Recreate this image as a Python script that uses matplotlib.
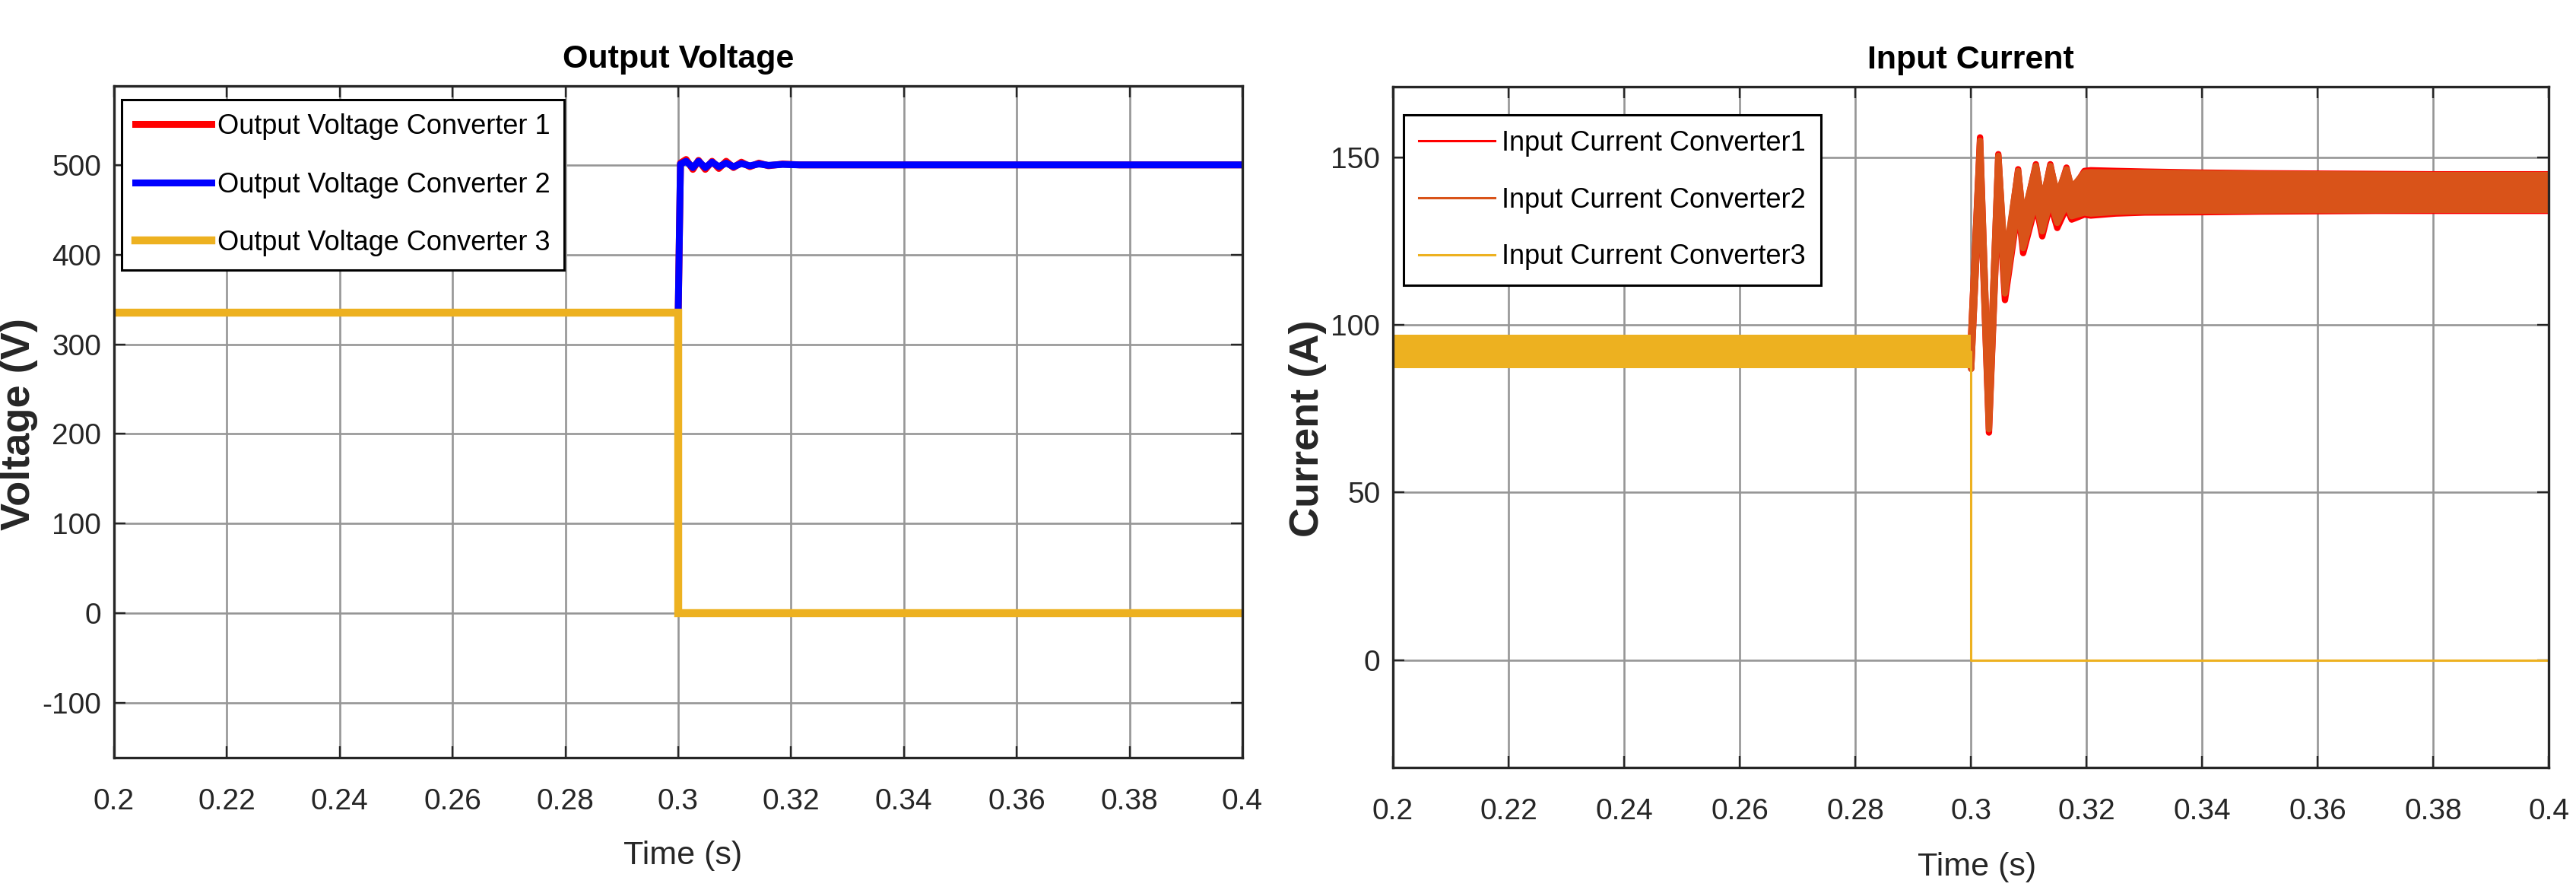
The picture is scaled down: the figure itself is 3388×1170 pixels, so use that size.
import matplotlib
matplotlib.use('Agg')
import matplotlib.pyplot as plt
from matplotlib.lines import Line2D

# ---------------- data ----------------
x_ticks = [0.2, 0.22, 0.24, 0.26, 0.28, 0.3, 0.32, 0.34, 0.36, 0.38, 0.4]
x_tick_labels = ['0.2', '0.22', '0.24', '0.26', '0.28', '0.3', '0.32', '0.34', '0.36', '0.38', '0.4']
v_ticks = [-100, 0, 100, 200, 300, 400, 500]
i_ticks = [0, 50, 100, 150]

# Output voltage
t_v = [0.20, 0.3000, 0.3004, 0.3014, 0.3026, 0.3036, 0.3048, 0.3060, 0.3072, 0.3085,
       0.3098, 0.3112, 0.3127, 0.3143, 0.3160, 0.3185, 0.3215, 0.3260, 0.40]
v_conv1 = [335, 335, 502, 506, 495, 505, 495, 504, 496, 504,
           497, 503, 498, 502, 499, 501, 500, 500, 500]
v_conv2 = [335, 335, 501, 504, 497, 504, 497, 503, 498, 502,
           498, 501.5, 499, 501, 499.5, 500.5, 500, 500, 500]
t_v3 = [0.20, 0.30, 0.30, 0.40]
v_conv3 = [335, 335, 0, 0]

# Input current - converter 3 (ripple band before 0.3 s, then zero)
t_i3_band = [0.20, 0.30]
i3_lo = [87, 87]
i3_hi = [97, 97]
t_i3 = [0.20, 0.30, 0.30, 0.40]
i_conv3 = [92, 92, 0, 0]

# Input current - converters 1 & 2 (upper / lower edge of ripple envelope)
t_i12 = [0.3000, 0.30154, 0.30308, 0.30470, 0.30585, 0.30813, 0.30900, 0.31120,
         0.31230, 0.31370, 0.31490, 0.31650, 0.31740, 0.31960, 0.32070, 0.3250,
         0.3300, 0.3400, 0.3500, 0.3600, 0.3700, 0.3800, 0.3900, 0.4000]
i_conv1_hi = [97, 156, 76, 151, 117, 146.5, 131, 148, 136, 148, 138, 147, 140, 146,
              146.2, 146, 145.8, 145.5, 145.3, 145.2, 145.1, 145.0, 145.0, 145.0]
i_conv1_lo = [87, 144, 68, 139, 107.5, 135, 121.5, 136, 126.5, 136, 129, 135, 131.5, 133,
              132.7, 133.3, 133.6, 133.7, 133.9, 134, 134.1, 134.1, 134.1, 134.1]
i_conv2_hi = [97, 155, 77, 150.5, 119, 146, 132, 147.5, 137, 147.5, 139, 146.5, 141, 145.5,
              145.6, 145.5, 145.5, 145.3, 145.1, 145, 144.9, 144.8, 144.8, 144.8]
i_conv2_lo = [87, 145, 69, 140, 109.5, 136, 123, 137, 128, 137, 130.5, 136, 132.5, 133.6,
              133.3, 133.8, 134, 134.1, 134.2, 134.3, 134.3, 134.4, 134.4, 134.4]

# ---------------- style ----------------
RED = '#FF0000'
BLUE = '#0000FF'
ORANGE = '#D95319'
YELLOW = '#EDB120'
AXC = '#262626'

FONT = ['Liberation Sans', 'DejaVu Sans']
plt.rcParams['font.family'] = FONT

W, H = 3388, 1170
fig = plt.figure(figsize=(W / 100, H / 100), dpi=100)


def px_axes(l, t, r, b):
    return [l / W, 1 - b / H, (r - l) / W, (b - t) / H]


ax1 = fig.add_axes(px_axes(150, 113, 1634, 996))
ax2 = fig.add_axes(px_axes(1832, 114, 3352, 1009))

for ax in (ax1, ax2):
    ax.set_xlim(0.2, 0.4)
    ax.set_xticks(x_ticks)
    ax.set_xticklabels(x_tick_labels)
    ax.grid(True, color='#969696', lw=1.9)
    ax.set_axisbelow(True)
    ax.tick_params(direction='in', length=11, width=1.7, color=AXC,
                   top=True, right=True, labelsize=28, labelcolor=AXC)
    ax.tick_params(axis='x', pad=29)
    ax.tick_params(axis='y', pad=12)
    for s in ax.spines.values():
        s.set_linewidth(2.4)
        s.set_color(AXC)
        s.set_zorder(5)

fs = 26 * 100 / 72

# ---- left: output voltage ----
l1, = ax1.plot(t_v, v_conv1, color=RED, lw=6.5, solid_joinstyle='round',
               label='Output Voltage Converter 1')
l2, = ax1.plot(t_v, v_conv2, color=BLUE, lw=6.5, solid_joinstyle='round',
               label='Output Voltage Converter 2')
l3, = ax1.plot(t_v3, v_conv3, color=YELLOW, lw=7.5, solid_joinstyle='miter',
               label='Output Voltage Converter 3')
ax1.set_ylim(-161, 588)
ax1.set_yticks(v_ticks)
ax1.set_yticklabels([str(v) for v in v_ticks])
ax1.set_title('Output Voltage', fontsize=31, fontweight='bold', pad=17, color='black')
ax1.set_xlabel('Time (s)', fontsize=31, color=AXC)
ax1.xaxis.set_label_coords(0.504, -0.124)
ax1.set_ylabel('Voltage (V)', fontsize=39, fontweight='bold', color=AXC)
ax1.yaxis.set_label_coords(-0.0674, 0.497)
leg1 = ax1.legend(handles=[l1, l2, l3], loc='upper left', bbox_to_anchor=(0.0067, 0.9796),
                  borderaxespad=0, fontsize=26, handlelength=100 / fs,
                  handletextpad=8 / fs, labelspacing=1.15, borderpad=0.5,
                  fancybox=False, framealpha=1, edgecolor='black')
leg1.get_frame().set_linewidth(2.2)

# ---- right: input current ----
ax2.fill_between(t_i12, i_conv1_lo, i_conv1_hi, facecolor=RED, edgecolor=RED, lw=6)
ax2.fill_between(t_i12, i_conv2_lo, i_conv2_hi, facecolor=ORANGE, edgecolor=ORANGE, lw=6)
ax2.fill_between(t_i3_band, i3_lo, i3_hi, color=YELLOW, lw=0)
ax2.plot(t_i3, i_conv3, color=YELLOW, lw=2.2)
ax2.set_ylim(-32, 171)
ax2.set_yticks(i_ticks)
ax2.set_yticklabels([str(v) for v in i_ticks])
ax2.set_title('Input Current', fontsize=31, fontweight='bold', pad=17, color='black')
ax2.set_xlabel('Time (s)', fontsize=31, color=AXC)
ax2.xaxis.set_label_coords(0.505, -0.124)
ax2.set_ylabel('Current (A)', fontsize=39, fontweight='bold', color=AXC)
ax2.yaxis.set_label_coords(-0.0572, 0.498)
handles2 = [Line2D([], [], color=RED, lw=2.2), Line2D([], [], color=ORANGE, lw=2.2),
            Line2D([], [], color=YELLOW, lw=2.2)]
leg2 = ax2.legend(handles=handles2,
                  labels=['Input Current Converter1', 'Input Current Converter2',
                          'Input Current Converter3'],
                  loc='upper left', bbox_to_anchor=(0.0092, 0.9587),
                  borderaxespad=0, fontsize=26, handlelength=100 / fs,
                  handletextpad=9 / fs, labelspacing=1.1, borderpad=0.55,
                  fancybox=False, framealpha=1, edgecolor='black')
leg2.get_frame().set_linewidth(2.2)

fig.savefig('out.png', dpi=100)
